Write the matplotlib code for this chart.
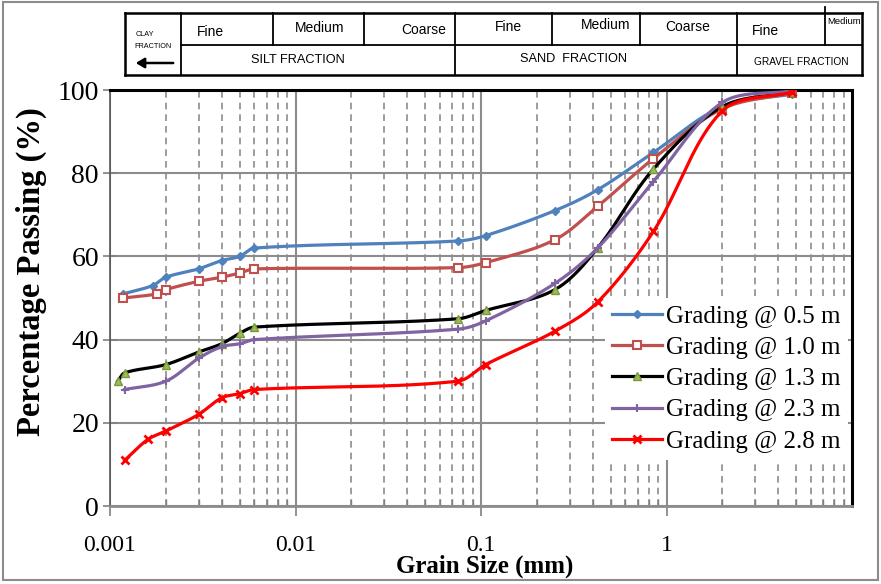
import numpy as np
import matplotlib
matplotlib.use("Agg")
import matplotlib.pyplot as plt
from matplotlib.lines import Line2D
from matplotlib.patches import Rectangle, FancyArrowPatch
from matplotlib.ticker import LogLocator, NullFormatter, FixedLocator, FixedFormatter

# ---------------- data ----------------
x_05 = [0.00118, 0.0017, 0.002, 0.003, 0.004, 0.005, 0.006, 0.075, 0.106, 0.25, 0.425, 0.85, 2.0, 4.75]
y_05 = [51, 53, 55, 57, 59, 60, 62, 63.7, 65, 71, 76, 85, 96, 99]

x_10 = [0.00118, 0.0018, 0.002, 0.003, 0.004, 0.005, 0.006, 0.075, 0.106, 0.25, 0.425, 0.85, 2.0, 4.75]
y_10 = [50, 51, 52, 54, 55, 56, 57, 57.3, 58.5, 64, 72, 83.5, 95.5, 99.3]

x_13 = [0.0011, 0.0012, 0.002, 0.003, 0.004, 0.005, 0.006, 0.075, 0.106, 0.25, 0.425, 0.85, 2.0, 4.75]
y_13 = [30, 32, 34, 37, 39, 41.5, 43, 45, 47, 52, 62, 81, 96, 99.5]

x_23 = [0.0012, 0.002, 0.003, 0.004, 0.005, 0.006, 0.075, 0.106, 0.25, 0.425, 0.85, 2.0, 4.75]
y_23 = [28, 30, 35.5, 38.3, 39, 40, 42.5, 44.5, 53.5, 62, 78, 97, 99.8]

x_28 = [0.0012, 0.0016, 0.002, 0.003, 0.004, 0.005, 0.006, 0.075, 0.106, 0.25, 0.425, 0.85, 2.0, 4.75]
y_28 = [11, 16, 18, 22, 26, 27, 28, 30, 34, 42, 49, 66, 95, 99.5]

labels = ["Grading @ 0.5 m", "Grading @ 1.0 m", "Grading @ 1.3 m",
          "Grading @ 2.3 m", "Grading @ 2.8 m"]

x_ticks = [0.001, 0.01, 0.1, 1]
x_ticklabels = ["0.001", "0.01", "0.1", "1"]
y_ticks = [0, 20, 40, 60, 80, 100]

top_row = ["Fine", "Medium", "Coarse", "Fine", "Medium", "Coarse", "Fine", "Medium"]
bottom_row = ["SILT FRACTION", "SAND  FRACTION", "GRAVEL FRACTION"]

# ---------------- helpers ----------------
def smooth(x, y, sx=185.5, sy=4.16, n=40):
    """Smoothed line through points (Bezier, chord-length-scaled tangents)."""
    P = np.column_stack([np.log10(x) * sx, np.asarray(y, float) * sy])
    N = len(P)
    E = np.vstack([P[0], P, P[-1]])
    seglen = np.r_[0.0, np.linalg.norm(np.diff(P, axis=0), axis=1), 0.0]
    segs, idx = [], []
    count = 0
    t = np.linspace(0, 1, n, endpoint=False)[:, None]
    for i in range(N - 1):
        p0, p1, p2, p3 = E[i], E[i + 1], E[i + 2], E[i + 3]
        la, lb, lc = seglen[i], seglen[i + 1], seglen[i + 2]
        m1 = p2 - p0
        m2 = p3 - p1
        c1 = p1 + m1 * (lb / (la + lb)) / 3.0
        c2 = p2 - m2 * (lb / (lb + lc)) / 3.0
        Bz = (1 - t) ** 3 * p1 + 3 * (1 - t) ** 2 * t * c1 + 3 * (1 - t) * t ** 2 * c2 + t ** 3 * p2
        idx.append(count)
        segs.append(Bz)
        count += n
    segs.append(P[-1][None, :])
    idx.append(count)
    S = np.vstack(segs)
    return 10 ** (S[:, 0] / sx), S[:, 1] / sy, idx

plt.rcParams["font.family"] = ["Liberation Serif", "DejaVu Serif"]

W, H = 881, 584
fig = plt.figure(figsize=(W / 100, H / 100), dpi=100)
L, R, T, B = 110, 852, 90, 506
ax = fig.add_axes([L / W, 1 - B / H, (R - L) / W, (B - T) / H])

series = [
    (x_05, y_05, dict(color="#4F81BD", marker="D", ms=4, mfc="#4F81BD", mec="#4F81BD")),
    (x_10, y_10, dict(color="#C0504D", marker="s", ms=6, mfc="white", mec="#C0504D", mew=1.5)),
    (x_13, y_13, dict(color="black", marker="^", ms=6, mfc="#9BBB59", mec="#7A9A3A", mew=1)),
    (x_23, y_23, dict(color="#8064A2", marker="+", ms=6, mec="#8064A2", mew=1.5)),
    (x_28, y_28, dict(color="#FF0000", marker="x", ms=6, mec="#FF0000", mew=2)),
]
handles = []
for (xs, ys, st), lab in zip(series, labels):
    sx, sy, idx = smooth(xs, ys)
    h, = ax.plot(sx, sy, lw=2.3, markevery=idx, label=lab, zorder=3, **st)
    handles.append(h)

ax.set_xscale("log")
ax.set_xlim(0.001, 10)
ax.set_ylim(0, 100)
ax.xaxis.set_major_locator(FixedLocator(x_ticks))
ax.xaxis.set_major_formatter(FixedFormatter(x_ticklabels))
ax.xaxis.set_minor_locator(LogLocator(base=10, subs=np.arange(2, 10), numticks=20))
ax.xaxis.set_minor_formatter(NullFormatter())
ax.set_yticks(y_ticks)

ax.grid(which="major", axis="both", color="#8C8C8C", lw=1.5, ls="-", zorder=1)
ax.grid(which="minor", axis="x", color="#8C8C8C", lw=1.2, ls=(0, (4, 3)), zorder=1)

ax.tick_params(axis="y", which="major", direction="inout", length=10, width=1.2,
               color="#808080", labelsize=20, pad=3)
ax.tick_params(axis="x", which="major", direction="out", length=7, width=1.2,
               color="#808080", labelsize=17, pad=14)
ax.tick_params(axis="x", which="minor", direction="in", length=5, width=1,
               color="#808080")

for s in ["top", "right"]:
    ax.spines[s].set_color("black")
    ax.spines[s].set_linewidth(2.2)
ax.spines["left"].set_color("#555555")
ax.spines["left"].set_linewidth(1.2)
ax.spines["bottom"].set_color("#8C8C8C")
ax.spines["bottom"].set_linewidth(2.0)

fig.text(31 / W, 1 - 272 / H, "Percentage Passing (%)", fontsize=23.5, fontweight="bold",
         rotation=90, ha="center", va="center")
fig.text(485 / W, 1 - 566 / H, "Grain Size (mm)", fontsize=18, fontweight="bold",
         ha="center", va="center")

leg = ax.legend(handles=handles, loc="upper left", bbox_to_anchor=(0.650, 0.531),
                fontsize=18, frameon=True, fancybox=False, framealpha=1,
                facecolor="white", edgecolor="none", handlelength=2.0,
                handletextpad=0.16, labelspacing=0.35, borderpad=0.3)
leg.set_zorder(5)

# ---------------- header table (figure pixel coords) ----------------
def fx(px):
    return px / W

def fy(py):
    return 1 - py / H

def line(x0, y0, x1, y1, lw=1.3, color="black"):
    fig.add_artist(Line2D([fx(x0), fx(x1)], [fy(y0), fy(y1)], lw=lw, color=color,
                          transform=fig.transFigure))

tx0, tx1, ty0, ty1, tmid = 125, 862, 13, 75, 45
line(tx0, ty0, tx1, ty0, lw=1.8)
line(tx0, ty1, tx1, ty1, lw=1.8)
line(tx0, ty0, tx0, ty1, lw=1.8)
line(tx1, ty0, tx1, ty1, lw=1.8)
line(181, tmid, tx1, tmid)
for xv in [181, 455, 737]:
    line(xv, ty0, xv, ty1)
for xv in [273, 364, 552, 640]:
    line(xv, ty0, xv, tmid)
line(825, 7, 825, tmid)

sans = ["Liberation Sans", "DejaVu Sans"]
top_pos = [(210, 32), (320, 28), (424, 30), (508, 27), (606, 25), (688, 27), (765, 31), (844, 22)]
top_size = [10, 10, 10, 10, 10, 10, 10, 6.8]
for txt, (px, py), fs in zip(top_row, top_pos, top_size):
    fig.text(fx(px), fy(py), txt, fontsize=fs, family=sans, ha="center", va="center")
bot_pos = [(298, 60), (573, 59), (801, 62)]
bot_size = [9.2, 9.2, 7.3]
for txt, (px, py), fs in zip(bottom_row, bot_pos, bot_size):
    fig.text(fx(px), fy(py), txt, fontsize=fs, family=sans, ha="center", va="center")
fig.text(fx(145), fy(34), "CLAY", fontsize=5.2, family=sans, ha="center", va="center")
fig.text(fx(153), fy(47), "FRACTION", fontsize=5.2, family=sans, ha="center", va="center")
fig.add_artist(FancyArrowPatch(
    (fx(176), fy(63)), (fx(133), fy(63)), transform=fig.transFigure,
    arrowstyle="-|>,head_length=5,head_width=3", lw=1.8, color="black"))

# outer figure frame
fig.add_artist(Rectangle((0.003, 0.006), 0.994, 0.99, transform=fig.transFigure,
                         fill=False, edgecolor="#8C8C8C", lw=1.5))

fig.savefig("out.png", dpi=100)
